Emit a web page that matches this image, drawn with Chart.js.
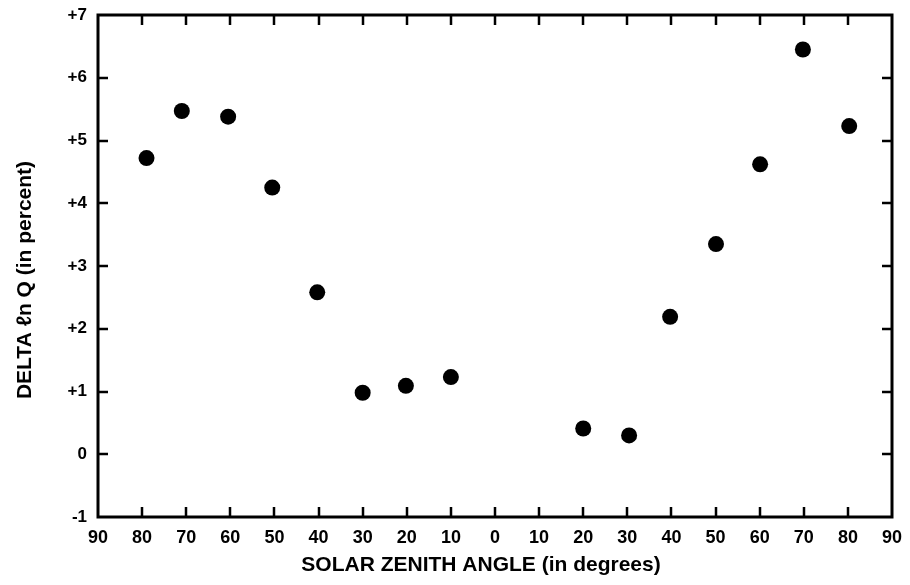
<!DOCTYPE html>
<html>
<head>
<meta charset="utf-8">
<script src="https://cdn.jsdelivr.net/npm/chart.js@4/dist/chart.umd.min.js"></script>
<style>
  html, body { margin: 0; padding: 0; background: #fff; }
  canvas { display: block; }
</style>
</head>
<body>
<canvas id="c" width="910" height="585"></canvas>
<script>
// Solar zenith angle: negative = left half (morning side), positive = right half
const angles = [-79, -71, -60.5, -50.5, -40.3, -30, -20.2, -10, 20, 30.4, 39.7, 50.1, 60.1, 69.8, 80.3];
const deltas = [4.72, 5.47, 5.38, 4.25, 2.58, 0.98, 1.09, 1.23, 0.41, 0.30, 2.19, 3.35, 4.62, 6.45, 5.23];
const xTitle = 'SOLAR ZENITH ANGLE (in degrees)';
const yTitle = 'DELTA \u2113n Q (in percent)';

const FONT = '"Liberation Sans", Arial, Helvetica, sans-serif';

const points = angles.map((a, i) => ({ x: a, y: deltas[i] }));

const framePlugin = {
  id: 'frame',
  afterDraw(chart) {
    const { ctx, chartArea: { left, right, top, bottom }, scales: { x, y } } = chart;
    ctx.save();
    ctx.strokeStyle = '#000';
    ctx.lineCap = 'butt';
    ctx.lineWidth = 2.5;
    const L = 10;
    x.ticks.forEach(t => {
      if (t.value <= -90 || t.value >= 90) return;
      const px = Math.round(x.getPixelForValue(t.value));
      ctx.beginPath();
      ctx.moveTo(px, bottom); ctx.lineTo(px, bottom - L);
      ctx.moveTo(px, top); ctx.lineTo(px, top + L);
      ctx.stroke();
    });
    y.ticks.forEach(t => {
      if (t.value <= -1 || t.value >= 7) return;
      const py = Math.round(y.getPixelForValue(t.value));
      ctx.beginPath();
      ctx.moveTo(left, py); ctx.lineTo(left + L, py);
      ctx.moveTo(right, py); ctx.lineTo(right - L, py);
      ctx.stroke();
    });
    ctx.lineWidth = 3;
    ctx.strokeRect(left, top, right - left, bottom - top);

    ctx.fillStyle = '#000';
    ctx.textAlign = 'center';
    ctx.textBaseline = 'middle';
    ctx.font = 'bold 21px ' + FONT;
    ctx.fillText(xTitle, 481, 565);
    ctx.translate(25, 280);
    ctx.rotate(-Math.PI / 2);
    ctx.font = 'bold 21px ' + FONT;
    ctx.fillText(yTitle, 0, 0);
    ctx.restore();
  }
};

new Chart(document.getElementById('c'), {
  type: 'scatter',
  data: {
    datasets: [{
      data: points,
      backgroundColor: '#000',
      borderColor: '#000',
      pointRadius: 8,
      pointHoverRadius: 8,
      borderWidth: 0
    }]
  },
  options: {
    responsive: false,
    animation: false,
    layout: { padding: { left: 0, right: 18, top: 15, bottom: 0 } },
    plugins: { legend: { display: false }, tooltip: { enabled: false } },
    scales: {
      x: {
        type: 'linear',
        min: -90, max: 90,
        afterFit(scale) { scale.height = 68; scale.paddingLeft = 0; scale.paddingRight = 0; },
        grid: { display: false, drawTicks: false },
        border: { display: false },
        ticks: {
          stepSize: 10,
          padding: 10,
          color: '#000',
          maxRotation: 0,
          autoSkip: false,
          font: { family: FONT, size: 18, weight: 'bold' },
          callback: v => String(Math.abs(v))
        }
      },
      y: {
        type: 'linear',
        min: -1, max: 7,
        afterFit(scale) { scale.width = 98; scale.paddingTop = 0; scale.paddingBottom = 0; },
        grid: { display: false, drawTicks: false },
        border: { display: false },
        ticks: {
          stepSize: 1,
          padding: 11,
          color: '#000',
          font: { family: FONT, size: 17, weight: 'bold' },
          callback: v => (v > 0 ? '+' + v : String(v))
        }
      }
    }
  },
  plugins: [framePlugin]
});
</script>
</body>
</html>
